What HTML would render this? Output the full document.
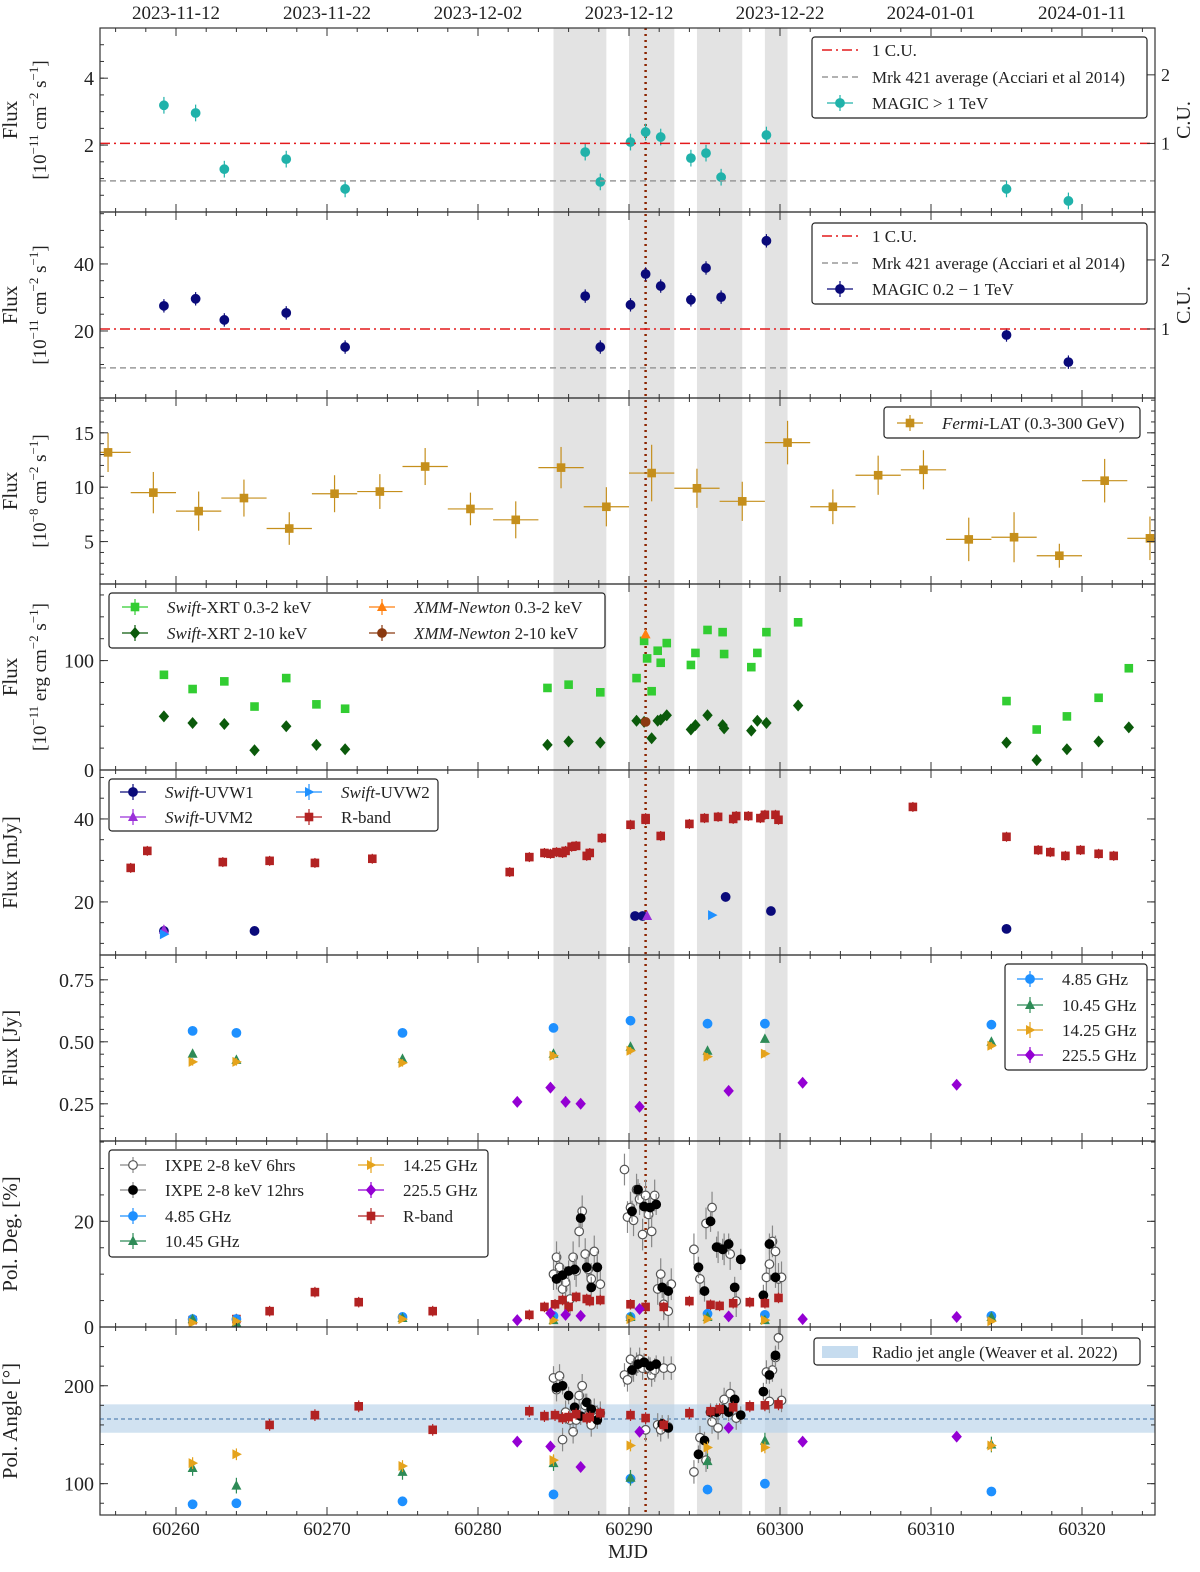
<!DOCTYPE html>
<html><head><meta charset="utf-8"><style>
html,body{margin:0;padding:0;background:#fff}
svg{display:block;font-family:"Liberation Serif",serif}
</style></head><body>
<svg id="chart" width="1200" height="1572" viewBox="0 0 1200 1572" xmlns="http://www.w3.org/2000/svg"></svg>
<script>
// ---------- data (MJD given as offset from 60000) ----------
const MJD0 = 60000;
const dateLabels = ["2023-11-12","2023-11-22","2023-12-02","2023-12-12","2023-12-22","2024-01-01","2024-01-11"];
const mjdTicks = [60260,60270,60280,60290,60300,60310,60320];
const flareBands = [[285.0,288.5],[290.0,293.0],[294.5,297.5],[299.0,300.5]];
const flareLine = 291.1;

// panel 1 MAGIC > 1 TeV
const magicHiT = [259.2,261.3,263.2,267.3,271.2,287.1,288.1,290.1,291.1,292.1,294.1,295.1,296.1,299.1,315.0,319.1];
const magicHiV = [3.19,2.96,1.28,1.58,0.69,1.79,0.90,2.09,2.39,2.24,1.61,1.76,1.04,2.30,0.69,0.33];
const cuHi = 2.05, mrkHi = 0.93;
// panel 2 MAGIC 0.2-1 TeV
const magicLoT = magicHiT;
const magicLoV = [27.5,29.6,23.3,25.4,15.2,30.4,15.2,27.8,37.0,33.4,29.3,38.8,30.1,46.9,18.8,10.7];
const cuLo = 20.6, mrkLo = 9.0;
// panel 3 Fermi
const fermiT = [255.5,258.5,261.5,264.5,267.5,270.5,273.5,276.5,279.5,282.5,285.5,288.5,291.5,294.5,297.5,300.5,303.5,306.5,309.5,312.5,315.5,318.5,321.5,324.5];
const fermiV = [13.2,9.5,7.8,9.0,6.2,9.4,9.6,11.9,8.0,7.0,11.8,8.2,11.3,9.9,8.7,14.1,8.2,11.1,11.6,5.2,5.4,3.7,10.6,5.3];
const fermiE = [1.8,1.9,1.8,1.7,1.5,1.7,1.6,1.7,1.5,1.7,1.9,1.8,2.6,1.8,1.8,2.0,1.6,1.8,1.8,2.0,2.3,1.1,2.0,2.0];
// panel 4 X-ray
const xrtSoftT = [259.2,261.1,263.2,265.2,267.3,269.3,271.2,284.6,286.0,288.1,290.5,291.0,291.2,291.5,291.9,292.1,292.5,294.1,294.4,295.2,296.2,296.3,298.1,298.5,299.1,301.2,315.0,317.0,319.0,321.1,323.1];
const xrtSoft = [87,74,81,58,84,60,56,75,78,71,84,118,102,72,109,98,116,96,107,128,126,106,94,107,126,135,63,37,49,66,93];
const xrtHardT = [259.2,261.1,263.2,265.2,267.3,269.3,271.2,284.6,286.0,288.1,290.5,291.0,291.5,291.9,292.1,292.5,294.1,294.4,295.2,296.2,296.3,298.1,298.5,299.1,301.2,315.0,317.0,319.0,321.1,323.1];
const xrtHard = [49,43,42,18,40,23,19,23,26,25,45,44,29,45,46,50,37,41,50,41,38,36,45,43,59,25,9,19,26,39];
const xmmT = [291.1], xmmSoft=[124], xmmHard=[44];
// panel 5 optical/UV
const rbandT = [257.0,258.1,263.1,266.2,269.2,273.0,282.1,283.4,284.4,284.8,285.2,285.6,285.8,286.2,286.5,287.2,287.4,288.2,290.1,291.1,291.1,292.1,294.0,295.0,295.9,296.9,297.1,297.9,298.7,299.0,299.7,299.9,308.8,315.0,317.1,317.9,318.9,319.9,321.1,322.1];
const rbandV = [28.2,32.3,29.6,29.9,29.4,30.4,27.2,30.8,31.8,31.6,32.0,31.8,32.3,33.3,33.5,31.1,31.8,35.4,38.6,39.8,40.2,35.9,38.8,40.2,40.5,40.0,40.7,40.7,40.2,41.0,41.0,39.8,42.9,35.7,32.5,32.0,31.1,32.5,31.6,31.1];
const uvw1T=[259.2,265.2,290.4,290.9,296.4,299.4,315.0], uvw1V=[13.0,13.0,16.6,16.6,21.2,17.8,13.5];
const uvm2T=[259.2,291.2], uvm2V=[13.3,16.6];
const uvw2T=[259.2,295.5], uvw2V=[12.2,16.8];
// panel 6 radio flux
const radioT = [261.1,264.0,275.0,285.0,290.1,295.2,299.0,314.0];
const r485 = [0.544,0.536,0.536,0.556,0.585,0.573,0.573,0.569];
const r1045 = [0.452,0.427,0.431,0.452,0.480,0.464,0.512,0.500];
const r1425 = [0.419,0.419,0.415,0.444,0.464,0.440,0.452,0.484];
const mmT = [282.6,284.8,285.8,286.8,290.7,296.6,301.5,311.7];
const r2255 = [0.258,0.315,0.258,0.250,0.238,0.302,0.335,0.327];
// panel 7 polarization degree
const ix6T=[285.0,285.2,285.4,285.6,285.8,286.1,286.3,286.5,286.7,286.9,287.1,287.3,287.5,287.7,287.9,288.1,289.7,289.9,290.1,290.3,290.5,290.7,290.9,291.1,291.3,291.5,291.7,291.9,292.1,292.3,292.6,292.8,294.3,294.7,295.1,295.5,295.9,296.3,296.7,297.1,299.1,299.3,299.5,299.7,299.9,300.1];
const ix6PD=[10.0,13.2,11.3,7.2,8.5,5.3,13.2,10.6,18.1,21.9,13.8,10.9,9.1,14.3,11.3,8.1,29.8,20.8,22.6,20.2,26.0,24.2,17.5,24.9,21.3,18.1,24.9,7.2,10.0,4.3,3.0,8.1,14.7,9.1,19.6,22.6,15.1,14.7,13.8,4.9,9.4,11.9,16.2,14.3,9.1,9.4];
const ix6PA=[208,196,210,145,173,165,153,165,190,200,180,170,160,175,168,172,211,206,227,216,222,227,218,155,218,211,216,160,155,218,158,218,112,147,124,163,157,186,192,167,214,184,216,229,249,185];
const ix12T=[285.2,285.6,286.0,286.4,286.8,287.2,287.5,287.9,290.2,290.6,291.0,291.4,291.8,292.2,292.6,294.6,295.0,295.4,295.8,296.2,296.6,297.0,297.4,298.9,299.3,299.7];
const ix12PD=[9.1,9.8,10.6,10.9,20.6,11.3,7.5,11.3,21.9,26.0,22.8,22.6,23.2,7.5,6.8,11.3,6.8,20.0,15.1,14.7,15.7,7.5,12.8,6.0,15.7,9.4];
const ix12PA=[198,200,190,178,169,183,176,165,216,222,224,220,222,161,157,130,144,173,173,176,173,186,170,194,211,231];
const rpolT=[261.1,264.0,266.2,269.2,272.1,277.0,283.4,284.4,285.1,285.6,286.0,286.5,287.2,287.4,288.1,290.1,291.1,292.3,294.0,295.4,296.0,296.9,298.0,299.0,299.9];
const rpolPD=[1.3,1.5,3.0,6.6,4.7,3.0,2.3,3.8,4.3,5.1,3.8,5.7,5.3,4.9,5.1,4.3,3.8,3.8,4.9,4.2,4.0,4.5,4.7,4.5,5.5];
const rpolPA=[null,null,160,170,179,155,174,169,170,167,168,171,167,168,172,170,167,160,172,174,176,178,179,180,181];
const pd485=[1.5,1.5,1.9,2.1,1.9,2.5,2.3,2.1], pd1045=[1.5,0.8,1.7,1.3,1.9,1.9,1.3,1.9], pd1425=[0.8,1.1,1.5,1.3,1.5,1.5,1.3,1.1];
const pd2255=[1.3,2.6,2.3,2.1,3.4,2.0,1.5,1.9];
// panel 8 polarization angle
const pa485=[79,80,82,89,105,94,100,92], pa1045=[116,98,112,121,106,123,144,140], pa1425=[121,130,118,124,139,137,137,139];
const pa2255=[143,138,null,117,153,157,143,148];
const jetLo=152, jetHi=181, jetMid=166;

// ---------- layout ----------
const NS="http://www.w3.org/2000/svg";
const svg=document.getElementById('chart');
const L=100,R=1155;
const X=d=>176+(d+MJD0-60260)*15.1;
const panels=[
 {t:28,b:212,lo:0,hi:5.5,ticks:[2,4],minor:0.5,dec:0},
 {t:212,b:398,lo:0,hi:55.5,ticks:[20,40],minor:5,dec:0},
 {t:398,b:584,lo:1.1,hi:18.2,ticks:[5,10,15],minor:1,dec:0},
 {t:584,b:770,lo:0,hi:170,ticks:[0,100],minor:20,dec:0},
 {t:770,b:955,lo:7.2,hi:51.8,ticks:[20,40],minor:5,dec:0},
 {t:955,b:1141,lo:0.1,hi:0.85,ticks:[0.25,0.5,0.75],minor:0.05,dec:2},
 {t:1141,b:1327,lo:0,hi:35.2,ticks:[0,20],minor:5,dec:0},
 {t:1327,b:1515,lo:68,hi:260,ticks:[100,200],minor:20,dec:0}];
panels.forEach(p=>p.y=v=>p.b-(v-p.lo)/(p.hi-p.lo)*(p.b-p.t));
function el(tag,attrs,parent){const e=document.createElementNS(NS,tag);for(const k in attrs)e.setAttribute(k,attrs[k]);(parent||svg).appendChild(e);return e;}
function txt(s,attrs,parent){const e=el('text',attrs,parent);e.textContent=s;return e;}

const defs=el('defs',{});
const cp=el('clipPath',{id:'plotclip'},defs);
el('rect',{x:L,y:28,width:R-L,height:1487},cp);

// shaded bands + flare line
const bg=el('g',{});


flareBands.forEach(b=>{const r=el('rect',{x:X(b[0]),y:28,width:X(b[1])-X(b[0]),height:1487,fill:'#e3e3e3'},bg);
 
 });
const P8=panels[7];
const jb=el('rect',{x:L,y:P8.y(jetHi),width:R-L,height:P8.y(jetLo)-P8.y(jetHi),fill:'#b8d3ea',opacity:0.65});


el('line',{x1:L,x2:R,y1:P8.y(jetMid),y2:P8.y(jetMid),stroke:'#3a6ea5','stroke-width':1,'stroke-dasharray':'4,3'});
const fl=el('line',{x1:X(flareLine),x2:X(flareLine),y1:28,y2:1515,stroke:'#8b2500','stroke-width':2.5,'stroke-dasharray':'2,4'});



const plotG=el('g',{'clip-path':'url(#plotclip)'});



function marker(shape,x,y,color,g,open){
 const s=4.3;let e;
 const fill=open?'#fff':color, st=open?'#555':color;
 if(shape==='circle')e=el('circle',{cx:x,cy:y,r:s,fill:fill,stroke:st,'stroke-width':1.2},g);
 else if(shape==='square')e=el('rect',{x:x-s,y:y-s,width:2*s,height:2*s,fill:color},g);
 else if(shape==='diamond')e=el('polygon',{points:`${x},${y-6} ${x+5.2},${y} ${x},${y+6} ${x-5.2},${y}`,fill:color},g);
 else if(shape==='tri')e=el('polygon',{points:`${x},${y-5.5} ${x+5},${y+4} ${x-5},${y+4}`,fill:color},g);
 else if(shape==='right')e=el('polygon',{points:`${x+5.5},${y} ${x-4},${y-5} ${x-4},${y+5}`,fill:color},g);
 
 
}
function series(name,p,T,V,shape,color,opt){
 opt=opt||{};
 const g=el('g',{},plotG);
 
 
 T.forEach((t,i)=>{const v=V[i];if(v==null)return;const x=X(t),y=p.y(v);
  const ec=opt.ecol||color;
  if(opt.err){const e=Array.isArray(opt.err)?opt.err[i]:opt.err;
   el('line',{x1:x,x2:x,y1:p.y(v+e),y2:p.y(v-e),stroke:ec,'stroke-width':1.2},g);}
  if(opt.xerr){el('line',{x1:X(t-opt.xerr),x2:X(t+opt.xerr),y1:y,y2:y,stroke:ec,'stroke-width':1.2},g);}
  marker(shape,x,y,color,g,opt.open);
 });
}
const [P1,P2,P3,P4,P5,P6,P7]=panels;
const C={teal:'#20b2aa',navy:'#0a0a7a',gold:'#c58f1c',lg:'#32cd32',dg:'#0b5a0b',orng:'#ff7f0e',brn:'#8b3a10',purp:'#9b30d9',blue:'#1e90ff',red:'#b22222',sg:'#2e8b57',yel:'#e5a31c',vio:'#9400d3'};

function hline(p,v,color,dash,name){const l=el('line',{x1:L,x2:R,y1:p.y(v),y2:p.y(v),stroke:color,'stroke-width':1.5,'stroke-dasharray':dash});
 
 }
hline(P1,cuHi,'#e41a1c','10,4,2,4','crab-unit-line');hline(P1,mrkHi,'#999','6,4','mrk421-average-line');
hline(P2,cuLo,'#e41a1c','10,4,2,4','crab-unit-line');hline(P2,mrkLo,'#999','6,4','mrk421-average-line');

series('magic-above-1tev',P1,magicHiT,magicHiV,'circle',C.teal,{err:0.25});
series('magic-0.2-1tev',P2,magicLoT,magicLoV,'circle',C.navy,{err:2});
series('fermi-lat',P3,fermiT,fermiV,'square',C.gold,{err:fermiE,xerr:1.5});
series('swift-xrt-soft',P4,xrtSoftT,xrtSoft,'square',C.lg,{});
series('swift-xrt-hard',P4,xrtHardT,xrtHard,'diamond',C.dg,{});
series('xmm-soft',P4,xmmT,xmmSoft,'tri',C.orng,{});
series('xmm-hard',P4,xmmT,xmmHard,'circle',C.brn,{});
series('r-band-flux',P5,rbandT,rbandV,'square',C.red,{err:1.2});
series('swift-uvw1',P5,uvw1T,uvw1V,'circle',C.navy,{});
series('swift-uvm2',P5,uvm2T,uvm2V,'tri',C.purp,{});
series('swift-uvw2',P5,uvw2T,uvw2V,'right',C.blue,{});
series('radio-4.85ghz',P6,radioT,r485,'circle',C.blue,{});
series('radio-10.45ghz',P6,radioT,r1045,'tri',C.sg,{err:0.015});
series('radio-14.25ghz',P6,radioT,r1425,'right',C.yel,{err:0.015});
series('radio-225.5ghz',P6,mmT,r2255,'diamond',C.vio,{err:0.012});
series('ixpe-6hrs-pd',P7,ix6T,ix6PD,'circle','#fff',{err:3,open:true,ecol:'#888'});
series('ixpe-12hrs-pd',P7,ix12T,ix12PD,'circle','#000',{err:2,ecol:'#888'});
series('r-band-pd',P7,rpolT,rpolPD,'square',C.red,{err:1});
series('pd-4.85ghz',P7,radioT,pd485,'circle',C.blue,{});
series('pd-10.45ghz',P7,radioT,pd1045,'tri',C.sg,{});
series('pd-14.25ghz',P7,radioT,pd1425,'right',C.yel,{});
series('pd-225.5ghz',P7,mmT,pd2255,'diamond',C.vio,{});
series('ixpe-6hrs-pa',P8,ix6T,ix6PA,'circle','#fff',{err:12,open:true,ecol:'#888'});
series('ixpe-12hrs-pa',P8,ix12T,ix12PA,'circle','#000',{err:9,ecol:'#888'});
series('r-band-pa',P8,rpolT,rpolPA,'square',C.red,{err:6});
series('pa-4.85ghz',P8,radioT,pa485,'circle',C.blue,{});
series('pa-10.45ghz',P8,radioT,pa1045,'tri',C.sg,{err:8});
series('pa-14.25ghz',P8,radioT,pa1425,'right',C.yel,{err:6});
series('pa-225.5ghz',P8,mmT,pa2255,'diamond',C.vio,{err:5});

// frames & ticks
panels.forEach((p,i)=>{
 const g=el('g',{});
 
 
 el('rect',{x:L,y:p.t,width:R-L,height:p.b-p.t,fill:'none',stroke:'#333','stroke-width':1.2},g);
 for(let d=60256;d<=60324;d+=2){const x=176+(d-60260)*15.1;const maj=(d%10===0);const len=maj?8:4;
  el('line',{x1:x,x2:x,y1:p.b,y2:p.b-len,stroke:'#333'},g);el('line',{x1:x,x2:x,y1:p.t,y2:p.t+len,stroke:'#333'},g);}
 for(let v=Math.ceil(p.lo/p.minor)*p.minor;v<=p.hi;v+=p.minor){const y=p.y(v);
  el('line',{x1:L,x2:L+4,y1:y,y2:y,stroke:'#333'},g);if(i>1)el('line',{x1:R,x2:R-4,y1:y,y2:y,stroke:'#333'},g);}
 p.ticks.forEach(v=>{const y=p.y(v);el('line',{x1:L,x2:L+8,y1:y,y2:y,stroke:'#333'},g);if(i>1)el('line',{x1:R,x2:R-8,y1:y,y2:y,stroke:'#333'},g);
  txt(v.toFixed(p.dec),{x:L-6,y:y+7,'font-size':20,'text-anchor':'end',fill:'#222'},g);});
});
[[P1,cuHi],[P2,cuLo]].forEach(([p,cu])=>{
 [1,2].forEach(k=>{const y=p.y(cu*k);el('line',{x1:R,x2:R-8,y1:y,y2:y,stroke:'#333'});txt(String(k),{x:R+6,y:y+6,'font-size':18,fill:'#222'});});
 const yc=(p.t+p.b)/2;txt('C.U.',{x:1190,y:yc,'font-size':20,'text-anchor':'middle',transform:`rotate(-90 1190 ${yc})`,fill:'#222'});
});
dateLabels.forEach((s,i)=>{const t=txt(s,{x:176+151*i,y:19,'font-size':19,'text-anchor':'middle',fill:'#222'});
 
 });
mjdTicks.forEach(m=>{txt(String(m),{x:176+(m-60260)*15.1,y:1535,'font-size':19,'text-anchor':'middle',fill:'#222'});});
const xt=txt('MJD',{x:628,y:1558,'font-size':20,'text-anchor':'middle',fill:'#222'});



function ylabel(p,l1,l2html){const yc=(p.t+p.b)/2;
 const t1=txt(l1,{x:17,y:yc,'font-size':21,'text-anchor':'middle',transform:`rotate(-90 17 ${yc})`,fill:'#222'});
 
 
 if(l2html){const t=el('text',{x:46,y:yc,'font-size':19,'text-anchor':'middle',transform:`rotate(-90 46 ${yc})`,fill:'#222'});t.innerHTML=l2html;}}
const unitA='[10<tspan dy="-8" font-size="13">−11</tspan><tspan dy="8"> cm</tspan><tspan dy="-8" font-size="13">−2</tspan><tspan dy="8"> s</tspan><tspan dy="-8" font-size="13">−1</tspan><tspan dy="8">]</tspan>';
ylabel(P1,'Flux',unitA);ylabel(P2,'Flux',unitA);
ylabel(P3,'Flux','[10<tspan dy="-8" font-size="13">−8</tspan><tspan dy="8"> cm</tspan><tspan dy="-8" font-size="13">−2</tspan><tspan dy="8"> s</tspan><tspan dy="-8" font-size="13">−1</tspan><tspan dy="8">]</tspan>');
ylabel(P4,'Flux','[10<tspan dy="-8" font-size="13">−11</tspan><tspan dy="8"> erg cm</tspan><tspan dy="-8" font-size="13">−2</tspan><tspan dy="8"> s</tspan><tspan dy="-8" font-size="13">−1</tspan><tspan dy="8">]</tspan>');
ylabel(P5,'Flux [mJy]',null);ylabel(P6,'Flux [Jy]',null);ylabel(P7,'Pol. Deg. [%]',null);ylabel(panels[7],'Pol. Angle [°]',null);

function legend(name,x,y,w,h,entries){
 const g=el('g',{});
 
 
 el('rect',{x:x,y:y,width:w,height:h,fill:'#fff',stroke:'#222','stroke-width':1.2,rx:3},g);
 entries.forEach(e=>{
  const [sx,sy,kind,color,label]=e;
  if(kind==='line')el('line',{x1:sx-18,x2:sx+18,y1:sy,y2:sy,stroke:color,'stroke-width':1.5,'stroke-dasharray':e[5]},g);
  else if(kind==='patch')el('rect',{x:sx-18,y:sy-6,width:36,height:12,fill:'#c6dcef'},g);
  else{const ec=kind==='open'||kind==='black'?'#888':color;
   el('line',{x1:sx-13,x2:sx+13,y1:sy,y2:sy,stroke:ec,'stroke-width':1.2},g);
   el('line',{x1:sx,x2:sx,y1:sy-8,y2:sy+8,stroke:ec,'stroke-width':1.2},g);
   if(kind==='open')marker('circle',sx,sy,'#fff',g,true);else if(kind==='black')marker('circle',sx,sy,'#000',g);else marker(kind,sx,sy,color,g);}
  const t=el('text',{x:sx+32,y:sy+6,'font-size':17,fill:'#222'},g);t.innerHTML=label;
 });
}
legend('legend-magic-hi',812,37,335,81,[[840,50,'line','#e41a1c','1 C.U.','10,4,2,4'],[840,77,'line','#999','Mrk 421 average (Acciari et al 2014)','6,4'],[840,103,'circle',C.teal,'MAGIC &gt; 1 TeV']]);
legend('legend-magic-lo',812,223,335,81,[[840,236,'line','#e41a1c','1 C.U.','10,4,2,4'],[840,263,'line','#999','Mrk 421 average (Acciari et al 2014)','6,4'],[840,289,'circle',C.navy,'MAGIC 0.2 − 1 TeV']]);
legend('legend-fermi',884,407,256,31,[[910,423,'square',C.gold,'<tspan font-style="italic">Fermi</tspan>-LAT (0.3-300 GeV)']]);
legend('legend-xray',109,593,496,55,[[135,607,'square',C.lg,'<tspan font-style="italic">Swift</tspan>-XRT 0.3-2 keV'],[135,633,'diamond',C.dg,'<tspan font-style="italic">Swift</tspan>-XRT 2-10 keV'],[382,607,'tri',C.orng,'<tspan font-style="italic">XMM-Newton</tspan> 0.3-2 keV'],[382,633,'circle',C.brn,'<tspan font-style="italic">XMM-Newton</tspan> 2-10 keV']]);
legend('legend-optical',109,779,329,52,[[133,792,'circle',C.navy,'<tspan font-style="italic">Swift</tspan>-UVW1'],[133,817,'tri',C.purp,'<tspan font-style="italic">Swift</tspan>-UVM2'],[309,792,'right',C.blue,'<tspan font-style="italic">Swift</tspan>-UVW2'],[309,817,'square',C.red,'R-band']]);
legend('legend-radio',1005,964,142,106,[[1030,979,'circle',C.blue,'4.85 GHz'],[1030,1005,'tri',C.sg,'10.45 GHz'],[1030,1030,'right',C.yel,'14.25 GHz'],[1030,1055,'diamond',C.vio,'225.5 GHz']]);
legend('legend-pol',109,1150,379,107,[[133,1165,'open','#fff','IXPE 2-8 keV 6hrs'],[133,1190,'black','#000','IXPE 2-8 keV 12hrs'],[133,1216,'circle',C.blue,'4.85 GHz'],[133,1241,'tri',C.sg,'10.45 GHz'],[371,1165,'right',C.yel,'14.25 GHz'],[371,1190,'diamond',C.vio,'225.5 GHz'],[371,1216,'square',C.red,'R-band']]);
legend('legend-jet',814,1338,326,27,[[840,1352,'patch','#c6dcef','Radio jet angle (Weaver et al. 2022)']]);
</script>
</body></html>
